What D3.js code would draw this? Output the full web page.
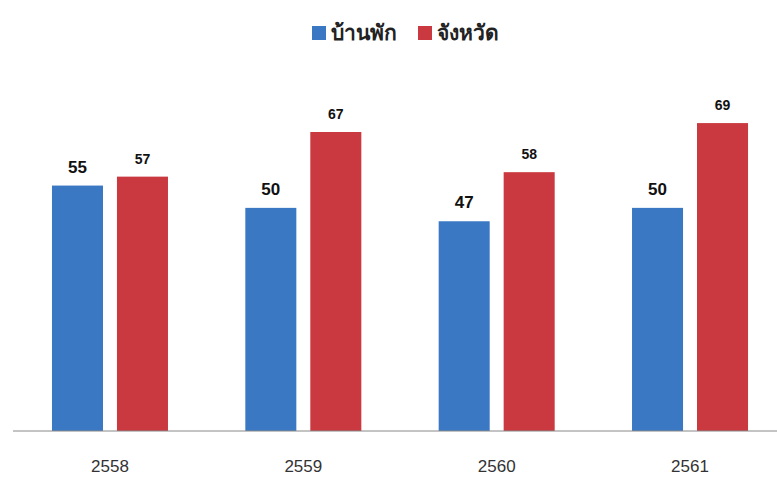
<!DOCTYPE html>
<html>
<head>
<meta charset="utf-8">
<style>
  body { margin: 0; background: #fff; }
  .chart text { font-family: "Liberation Sans", Arial, sans-serif; }
</style>
</head>
<body>
<div class="chart"></div>
<script src="https://d3js.org/d3.v7.min.js"></script>
<script>
  // ข้อมูล
  const years = ['2558', '2559', '2560', '2561']
  const series = ['บ้านพัก', 'จังหวัด']
  const banphak = [55, 50, 47, 50]
  const changwat = [57, 67, 58, 69]
  const colors = ['#3b78c4', '#c9393f']

  const svgWidth = 777,
        svgHeight = 477,
        baseY = 431

  const svg = d3.select('.chart')
                .append('svg')
                .attr('width', svgWidth)
                .attr('height', svgHeight)

  const xScale = d3.scaleBand()
                   .domain(years)
                   .range([13.3, 786.7])

  const subScale = d3.scaleBand()
                     .domain(series)
                     .range([0, xScale.bandwidth()])
                     .paddingInner(0.215)
                     .paddingOuter(0.595)

  const yScale = d3.scaleLinear()
                   .domain([0, 80])
                   .range([baseY, 74])

  const rows = years.map((y, i) => ({ year: y, values: [banphak[i], changwat[i]] }))

  const group = svg.append('g')
                   .selectAll('g')
                   .data(rows)
                   .join('g')
                   .attr('transform', d => `translate(${xScale(d.year)},0)`)

  group.selectAll('rect')
       .data(d => d.values.map((v, i) => ({ key: series[i], v, i })))
       .join('rect')
       .attr('x', d => subScale(d.key))
       .attr('y', d => yScale(d.v))
       .attr('width', subScale.bandwidth())
       .attr('height', d => baseY - yScale(d.v))
       .attr('fill', d => colors[d.i])

  group.selectAll('text.val')
       .data(d => d.values.map((v, i) => ({ key: series[i], v, i })))
       .join('text')
       .attr('class', 'val')
       .attr('x', d => subScale(d.key) + subScale.bandwidth() / 2)
       .attr('y', d => yScale(d.v) - 13)
       .attr('text-anchor', 'middle')
       .attr('font-weight', 'bold')
       .attr('font-size', d => d.i === 0 ? 17 : 14)
       .attr('fill', '#111')
       .text(d => d.v)

  // แกน X
  const xAxis = d3.axisBottom(xScale)
                  .tickSize(0)
                  .tickPadding(29)
  const gx = svg.append('g')
                .attr('transform', `translate(0,${baseY})`)
                .call(xAxis)
  gx.select('.domain').remove()
  gx.append('line')
    .attr('x1', 13).attr('x2', svgWidth)
    .attr('stroke', '#888').attr('stroke-width', 1)
  gx.selectAll('.tick text')
    .attr('font-size', 17)
    .attr('fill', '#333')
    .attr('font-family', '"Liberation Sans", Arial, sans-serif')

  // legend
  const legend = svg.append('g')
  const legendX = [312, 418]
  series.forEach((s, i) => {
    legend.append('rect')
          .attr('x', legendX[i]).attr('y', 26)
          .attr('width', 14).attr('height', 14)
          .attr('fill', colors[i])
    legend.append('text')
          .attr('x', legendX[i] + 19).attr('y', 40)
          .attr('font-size', 21)
          .attr('font-weight', 'bold')
          .attr('fill', '#222')
          .text(s)
  })
</script>
</body>
</html>
